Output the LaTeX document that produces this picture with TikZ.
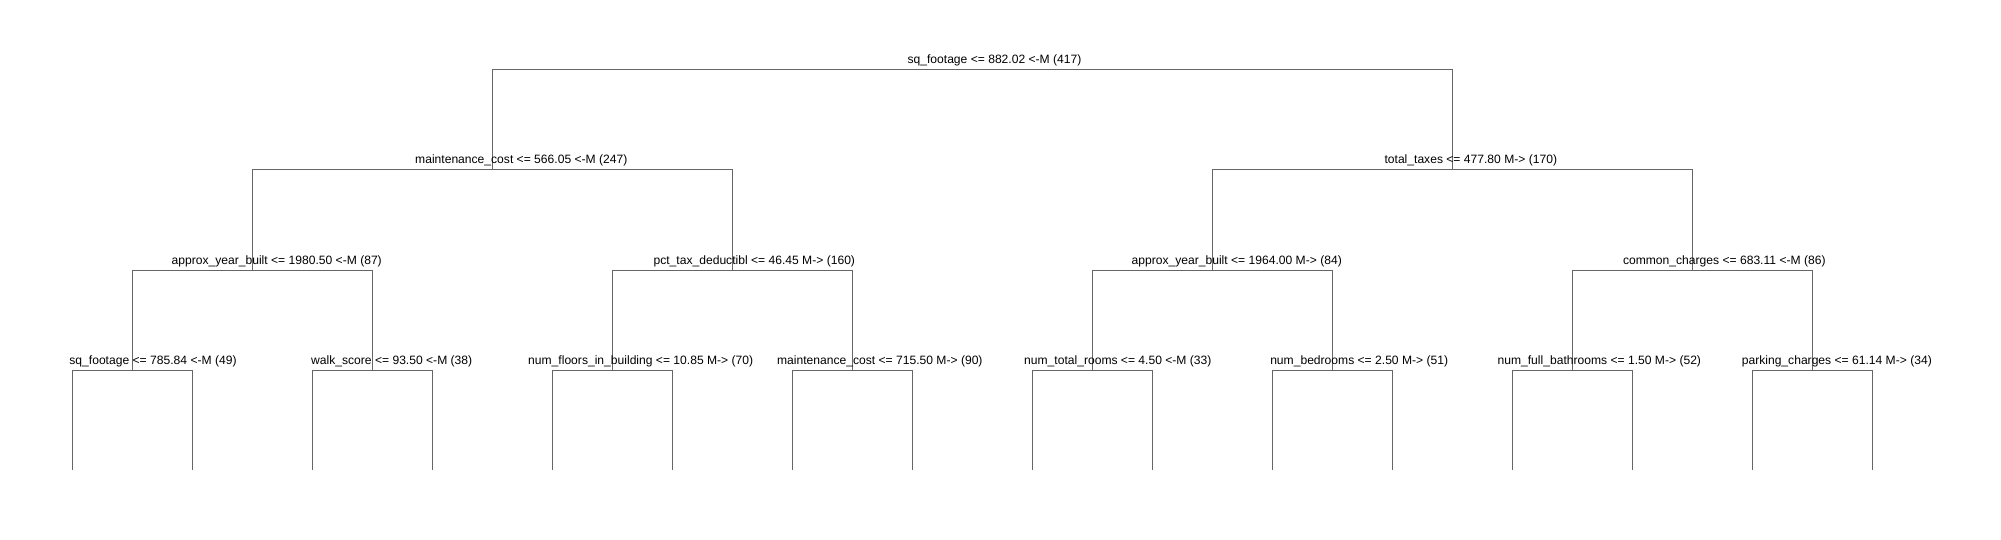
\documentclass[tikz,border=0pt]{standalone}
\usepackage{fontspec}
\setmainfont{Liberation Sans}
\begin{document}
\begin{tikzpicture}[x=1pt,y=-1pt,
  edge/.style={draw=black!60, line width=1pt},
  lbl/.style={anchor=base, inner sep=0pt, font=\fontsize{12.1}{14}\selectfont}]
\useasboundingbox[fill=white] (0,0) rectangle (2001,540);
% split points
\coordinate (n1) at (972.3,70);
\coordinate (n2) at (492.3,170);
\coordinate (n3) at (1452.3,170);
\coordinate (n4) at (252.3,270);
\coordinate (n5) at (732.3,270);
\coordinate (n6) at (1212.3,270);
\coordinate (n7) at (1692.3,270);
\coordinate (n8) at (132.3,370);
\coordinate (n9) at (372.3,370);
\coordinate (n10) at (612.3,370);
\coordinate (n11) at (852.3,370);
\coordinate (n12) at (1092.3,370);
\coordinate (n13) at (1332.3,370);
\coordinate (n14) at (1572.3,370);
\coordinate (n15) at (1812.3,370);
% leaf ends
\foreach \i/\x in {1/72.3,2/192.3,3/312.3,4/432.3,5/552.3,6/672.3,7/792.3,8/912.3,
                   9/1032.3,10/1152.3,11/1272.3,12/1392.3,13/1512.3,14/1632.3,15/1752.3,16/1872.3}
  \coordinate (l\i) at (\x,470);
% connectors
\draw[edge] (n1) -| (n2);
\draw[edge] (n1) -| (n3);
\draw[edge] (n2) -| (n4);
\draw[edge] (n2) -| (n5);
\draw[edge] (n3) -| (n6);
\draw[edge] (n3) -| (n7);
\draw[edge] (n4) -| (n8);
\draw[edge] (n4) -| (n9);
\draw[edge] (n5) -| (n10);
\draw[edge] (n5) -| (n11);
\draw[edge] (n6) -| (n12);
\draw[edge] (n6) -| (n13);
\draw[edge] (n7) -| (n14);
\draw[edge] (n7) -| (n15);
\draw[edge] (n8) -| (l1);
\draw[edge] (n8) -| (l2);
\draw[edge] (n9) -| (l3);
\draw[edge] (n9) -| (l4);
\draw[edge] (n10) -| (l5);
\draw[edge] (n10) -| (l6);
\draw[edge] (n11) -| (l7);
\draw[edge] (n11) -| (l8);
\draw[edge] (n12) -| (l9);
\draw[edge] (n12) -| (l10);
\draw[edge] (n13) -| (l11);
\draw[edge] (n13) -| (l12);
\draw[edge] (n14) -| (l13);
\draw[edge] (n14) -| (l14);
\draw[edge] (n15) -| (l15);
\draw[edge] (n15) -| (l16);
% labels
\node[lbl] (t1) at (994.5,64) {sq\_footage <= 882.02 <-M (417)};
\node[lbl] (t2) at (521.3,164) {maintenance\_cost <= 566.05 <-M (247)};
\node[lbl] (t3) at (1470.8,164) {total\_taxes <= 477.80 M-> (170)};
\node[lbl] (t4) at (276.7,264) {approx\_year\_built <= 1980.50 <-M (87)};
\node[lbl] (t5) at (754.3,264) {pct\_tax\_deductibl <= 46.45 M-> (160)};
\node[lbl] (t6) at (1236.7,264) {approx\_year\_built <= 1964.00 M-> (84)};
\node[lbl] (t7) at (1724.3,264) {common\_charges <= 683.11 <-M (86)};
\node[lbl] (t8) at (153,364) {sq\_footage <= 785.84 <-M (49)};
\node[lbl] (t9) at (391.7,364) {walk\_score <= 93.50 <-M (38)};
\node[lbl] (t10) at (640.7,364) {num\_floors\_in\_building <= 10.85 M-> (70)};
\node[lbl] (t11) at (879.8,364) {maintenance\_cost <= 715.50 M-> (90)};
\node[lbl] (t12) at (1117.8,364) {num\_total\_rooms <= 4.50 <-M (33)};
\node[lbl] (t13) at (1359.2,364) {num\_bedrooms <= 2.50 M-> (51)};
\node[lbl] (t14) at (1599.3,364) {num\_full\_bathrooms <= 1.50 M-> (52)};
\node[lbl] (t15) at (1836.8,364) {parking\_charges <= 61.14 M-> (34)};
\end{tikzpicture}
\end{document}
